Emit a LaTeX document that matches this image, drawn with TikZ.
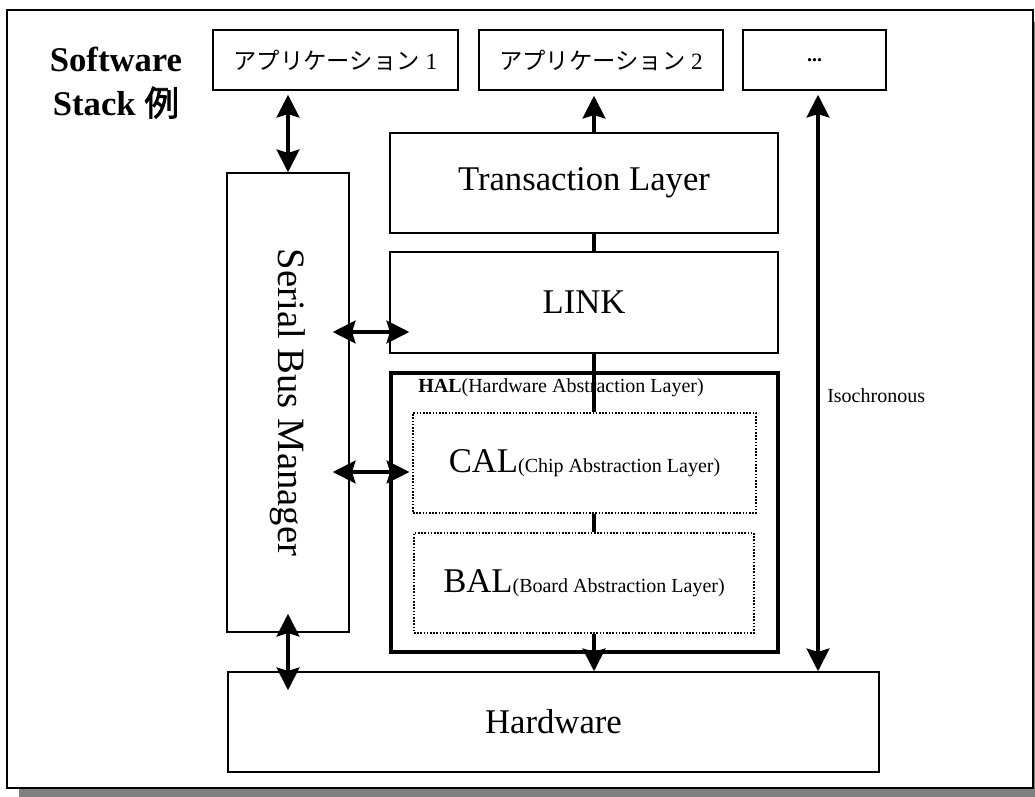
\documentclass[tikz,border=0pt]{standalone}
\usepackage{fontspec}
\setmainfont{Liberation Serif}
\newfontfamily\jp[AutoFakeBold=2]{Noto Sans CJK JP}
\usetikzlibrary{arrows.meta}

\tikzset{
  box/.style={draw, line width=1.1pt, fill=white, inner sep=0pt, minimum height=75pt},
  dotbox/.style={box, line width=1.4pt, dash pattern=on 1.2pt off 1.2pt},
  big/.style={font=\fontsize{26}{30}\selectfont},
  small/.style={font=\fontsize{15}{18}\selectfont},
  kana/.style={font=\fontsize{17.5}{20}\selectfont},
  tip/.tip={Stealth[length=17pt, width=17pt, inset=2.5pt]},
  link/.style={line width=3pt},
  dbl/.style={link, tip-tip},
  up/.style={link, -tip}
}

\begin{document}
\begin{tikzpicture}[x=0.75pt, y=-0.75pt]
\useasboundingbox (0,0) rectangle (1035,796);
% frame and its shadow
\fill[black!50] (19,22) rectangle (1047,808);
\draw[line width=2.2pt, fill=white] (7,10) rectangle (1033,788);

\node[anchor=north, align=center, inner sep=0pt, font=\bfseries\fontsize{26}{33}\selectfont] (title) at (116,47) {Software\\Stack {\jp 例}};

% applications
\node[box, minimum width=183.75pt, minimum height=45pt, kana] (app1) at (335.5,60) {{\jp アプリケーション} 1};
\node[box, minimum width=183pt, minimum height=45pt, kana] (app2) at (601,60) {{\jp アプリケーション} 2};
\node[box, minimum width=107.25pt, minimum height=45pt, small] (dots) at (814.5,60) {\textbf{...}};

% stack
\node[box, big, minimum width=291pt] (trans) at (584,183) {Transaction Layer};
\node[box, big, minimum width=291pt, minimum height=75.75pt] (link) at (584,302.5) {LINK};
\node[draw, line width=2.4pt, minimum width=290.25pt, minimum height=209.25pt] (hal) at (584.5,512.5) {};
\node[small, anchor=base west, inner sep=0pt] (hallbl) at (418,392) {\textbf{HAL}(Hardware Abstraction Layer)};
\node[dotbox, big, minimum width=257.25pt] (cal) at (584.5,463) {CAL{\fontsize{15}{18}\selectfont(Chip Abstraction Layer)}};
\node[dotbox, big, minimum width=255pt] (bal) at (584,583) {BAL{\fontsize{15}{18}\selectfont(Board Abstraction Layer)}};
\node[box, minimum width=91.5pt, minimum height=344.25pt] (sbm) at (288,402.5) {};
\node[rotate=-90, font=\fontsize{29}{32}\selectfont] (sbmlbl) at (sbm.center) {Serial Bus Manager};
\node[box, big, minimum width=488.25pt] (hw) at (553.5,722) {Hardware};

\coordinate (ctr) at (594,0);
\coordinate (iso) at (818,0);

% data path
\draw[up, shorten >=3.75pt] (trans.north -| ctr) -- (app2.south -| ctr);
\draw[link] (trans.south -| ctr) -- (link.north -| ctr);
\draw[link] (link.south -| ctr) -- (cal.north -| ctr);
\draw[link] (cal.south -| ctr) -- (bal.north -| ctr);
\draw[up] (bal.south -| ctr) -- (hw.north -| ctr);

\draw[dbl, shorten <=3pt] (sbm.north |- app1.south) -- (sbm.north);
\draw[dbl, shorten <=-12.75pt, shorten >=-15pt] (sbm.east |- 0,332) -- (link.west |- 0,332);
\draw[dbl, shorten <=-12.75pt, shorten >=2pt] (sbm.east |- 0,472) -- (cal.west |- 0,472);
\draw[dbl, shorten <=-14.25pt, shorten >=-14.25pt] (sbm.south) -- (sbm.south |- hw.north);
\draw[dbl, shorten <=3pt] (dots.south -| iso) -- (hw.north -| iso);
\node[small, anchor=base west, inner sep=0pt] (isolbl) at (827,402) {Isochronous};
\end{tikzpicture}
\end{document}
